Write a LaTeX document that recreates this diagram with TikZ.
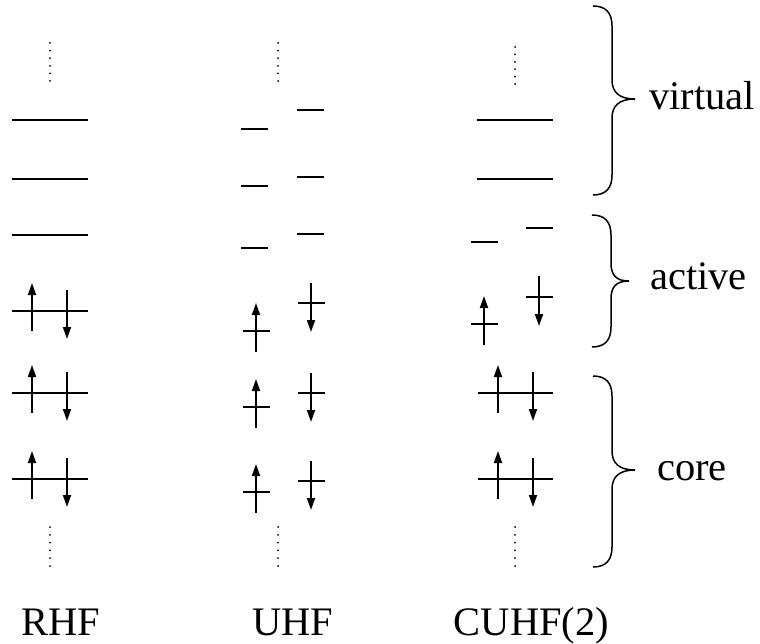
\documentclass[tikz,border=0pt]{standalone}
\usepackage{fontspec}
\setmainfont{Liberation Serif}
\usetikzlibrary{arrows.meta}
\tikzset{
  lev/.style={line width=1.8pt},
  upspin/.style={line width=1.8pt,-{Triangle[length=12pt,width=8pt]}},
  brc/.style={line width=1.5pt},
  lab/.style={inner sep=0pt,font=\fontsize{40.5}{48}\selectfont},
}
\newcommand\mydots[3]{\foreach \k in {0,...,5}{\fill (#1,{#2+(#3-#2)/5*\k}) circle (1pt);}}
\begin{document}
\begin{tikzpicture}[x=1pt,y=-1pt]
\useasboundingbox (0,0) rectangle (760,644);
% ---------- RHF ----------
\mydots{50}{43}{81}
\foreach \y in {120,179,235}{\draw[lev] (12,\y) -- (88,\y);}
\foreach \y in {311,393,479}{
  \draw[lev] (12,\y) -- (88,\y);
  \draw[upspin] (32,\y+20) -- (32,\y-28);
  \draw[upspin] (67,\y-21) -- (67,\y+28);
}
\mydots{50}{527}{566}
% ---------- UHF ----------
\mydots{278}{43}{81}
\foreach \y in {129,186,248}{\draw[lev] (241,\y) -- (268,\y);}
\foreach \y in {110,177,234}{\draw[lev] (297,\y) -- (324,\y);}
\foreach \y in {331,407,492}{
  \draw[lev] (243,\y) -- (270,\y);
  \draw[upspin] (256,\y+21) -- (256,\y-28);
}
\foreach \y in {303,393,481}{
  \draw[lev] (298,\y) -- (325,\y);
  \draw[upspin] (311,\y-20) -- (311,\y+29);
}
\mydots{278}{527}{566}
% ---------- CUHF(2) ----------
\mydots{515}{47}{84}
\foreach \y in {120,179}{\draw[lev] (477,\y) -- (553,\y);}
\draw[lev] (471,242) -- (498,242);
\draw[lev] (526,228) -- (553,228);
\draw[lev] (471,324) -- (498,324);
\draw[upspin] (484,345) -- (484,296);
\draw[lev] (526,297) -- (553,297);
\draw[upspin] (539,276) -- (539,326);
\foreach \y in {393,479}{
  \draw[lev] (478,\y) -- (553,\y);
  \draw[upspin] (498,\y+20) -- (498,\y-28);
  \draw[upspin] (533,\y-21) -- (533,\y+28);
}
\mydots{515}{527}{566}
% ---------- braces ----------
\draw[brc] (593,6) .. controls (606,6) and (612,13) .. (612,26) -- (612,80)
  .. controls (612,92) and (619,99) .. (635,99)
  .. controls (619,99) and (612,106) .. (612,118) -- (612,175)
  .. controls (612,188) and (606,195) .. (593,195);
\draw[brc] (592,215) .. controls (605,215) and (611,222) .. (611,235) -- (611,263)
  .. controls (611,275) and (616,281) .. (629,281)
  .. controls (616,281) and (611,287) .. (611,299) -- (611,327)
  .. controls (611,340) and (605,347) .. (592,347);
\draw[brc] (593,376) .. controls (606,376) and (612,383) .. (612,396) -- (612,451)
  .. controls (612,463) and (619,470) .. (635,470)
  .. controls (619,470) and (612,477) .. (612,489) -- (612,547)
  .. controls (612,560) and (606,567) .. (593,567);
% ---------- labels ----------
\node[lab,anchor=base west] (virt) at (649,110) {virtual};
\node[lab,anchor=base west] (act) at (650,290) {active};
\node[lab,anchor=base west] (core) at (657,480) {core};
\node[lab,anchor=base] (rhf) at (61,635) {RHF};
\node[lab,anchor=base] (uhf) at (293,635) {UHF};
\node[lab,anchor=base] (cuhf) at (531.5,635) {CUHF(2)};
\end{tikzpicture}
\end{document}
